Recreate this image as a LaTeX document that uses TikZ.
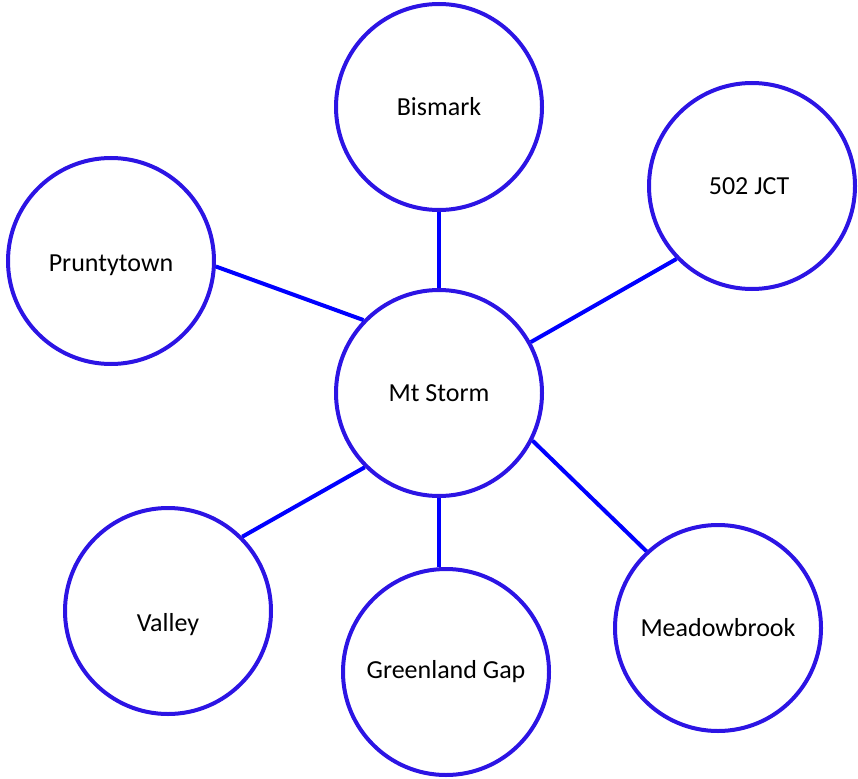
\documentclass[tikz,border=0pt]{standalone}
\usepackage{fontspec}
\setmainfont{Carlito}
\definecolor{ring}{HTML}{2C14E4}
\definecolor{link}{HTML}{0000FF}
\begin{document}
\begin{tikzpicture}[x=1pt,y=-1pt,
  town/.style={circle,draw=ring,line width=4pt,minimum size=206pt,inner sep=0pt,font=\fontsize{26}{30}\selectfont},
  road/.style={draw=link,line width=4pt}]
\useasboundingbox (0,0) rectangle (858,778);
\node[town] (ms) at (439,393) {Mt Storm};
\node[town] (bi) at (439,107) {Bismark};
\node[town] (jct) at (752,186) {\hspace*{-6pt}502 JCT};
\node[town] (pr) at (111,261) {\raisebox{-10pt}[0pt][0pt]{Pruntytown}};
\node[town] (va) at (168,611) {\raisebox{-20pt}[0pt][0pt]{Valley}};
\node[town] (gg) at (446,672) {Greenland Gap};
\node[town] (mb) at (718,628) {Meadowbrook};
\draw[road] (bi) -- (ms);
\draw[road] (pr.-3) -- (ms.136);
\draw[road] (jct.-136) -- (ms.29);
\draw[road] (ms.-135) -- (va.45);
\draw[road] (ms.south) -- (gg.north -| ms.south);
\draw[road] (ms.-27) -- (mb.133);
\end{tikzpicture}
\end{document}
